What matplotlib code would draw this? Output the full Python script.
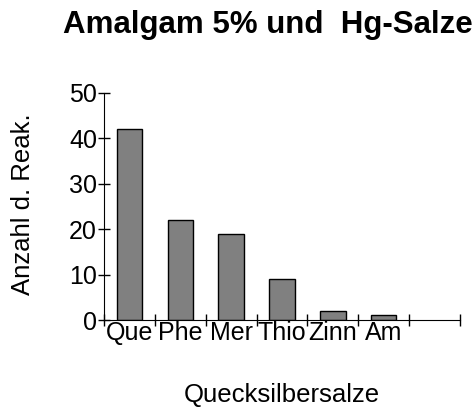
import matplotlib
matplotlib.use("Agg")
import matplotlib.pyplot as plt

categories = ["Que", "Phe", "Mer", "Thio", "Zinn", "Am", ""]
values = [42, 22, 19, 9, 2, 1, 0]

plt.rcParams["font.family"] = ["Liberation Sans", "DejaVu Sans"]

fig = plt.figure(figsize=(4.77, 4.07), dpi=100)
ax = fig.add_axes([104 / 477, 1 - 320 / 407, (460 - 104) / 477, (320 - 93) / 407])

pos = list(range(len(categories)))
ax.bar(pos[:6], values[:6], width=0.5, color="#808080", edgecolor="black", linewidth=1)

ax.set_xlim(-0.5, len(categories) - 0.5)
ax.set_ylim(0, 50)
ax.set_yticks([0, 10, 20, 30, 40, 50])
ax.set_xticks([p - 0.5 for p in pos] + [len(categories) - 0.5])
ax.set_xticklabels([])
ax.set_xticks(pos, minor=True)
ax.set_xticklabels(categories, minor=True, fontsize=18)
ax.tick_params(axis="x", which="minor", length=0, pad=0.5)
ax.tick_params(axis="x", which="major", direction="inout", length=8, width=1)
ax.tick_params(axis="y", direction="inout", length=8, width=1, labelsize=18, pad=1)

for side in ["top", "right"]:
    ax.spines[side].set_visible(False)

ax.set_ylabel("Anzahl d. Reak.", fontsize=18.5, va="center")
ax.yaxis.set_label_coords(-0.228, 0.51)
ax.set_xlabel("Quecksilbersalze", fontsize=18.5, va="center")
ax.xaxis.set_label_coords(0.5, -0.33)
fig.text(268 / 477, 1 - 33 / 407, "Amalgam 5% und  Hg-Salze", ha="center", va="baseline",
         fontsize=22.5, fontweight="bold")

fig.savefig("out.png", dpi=100)
